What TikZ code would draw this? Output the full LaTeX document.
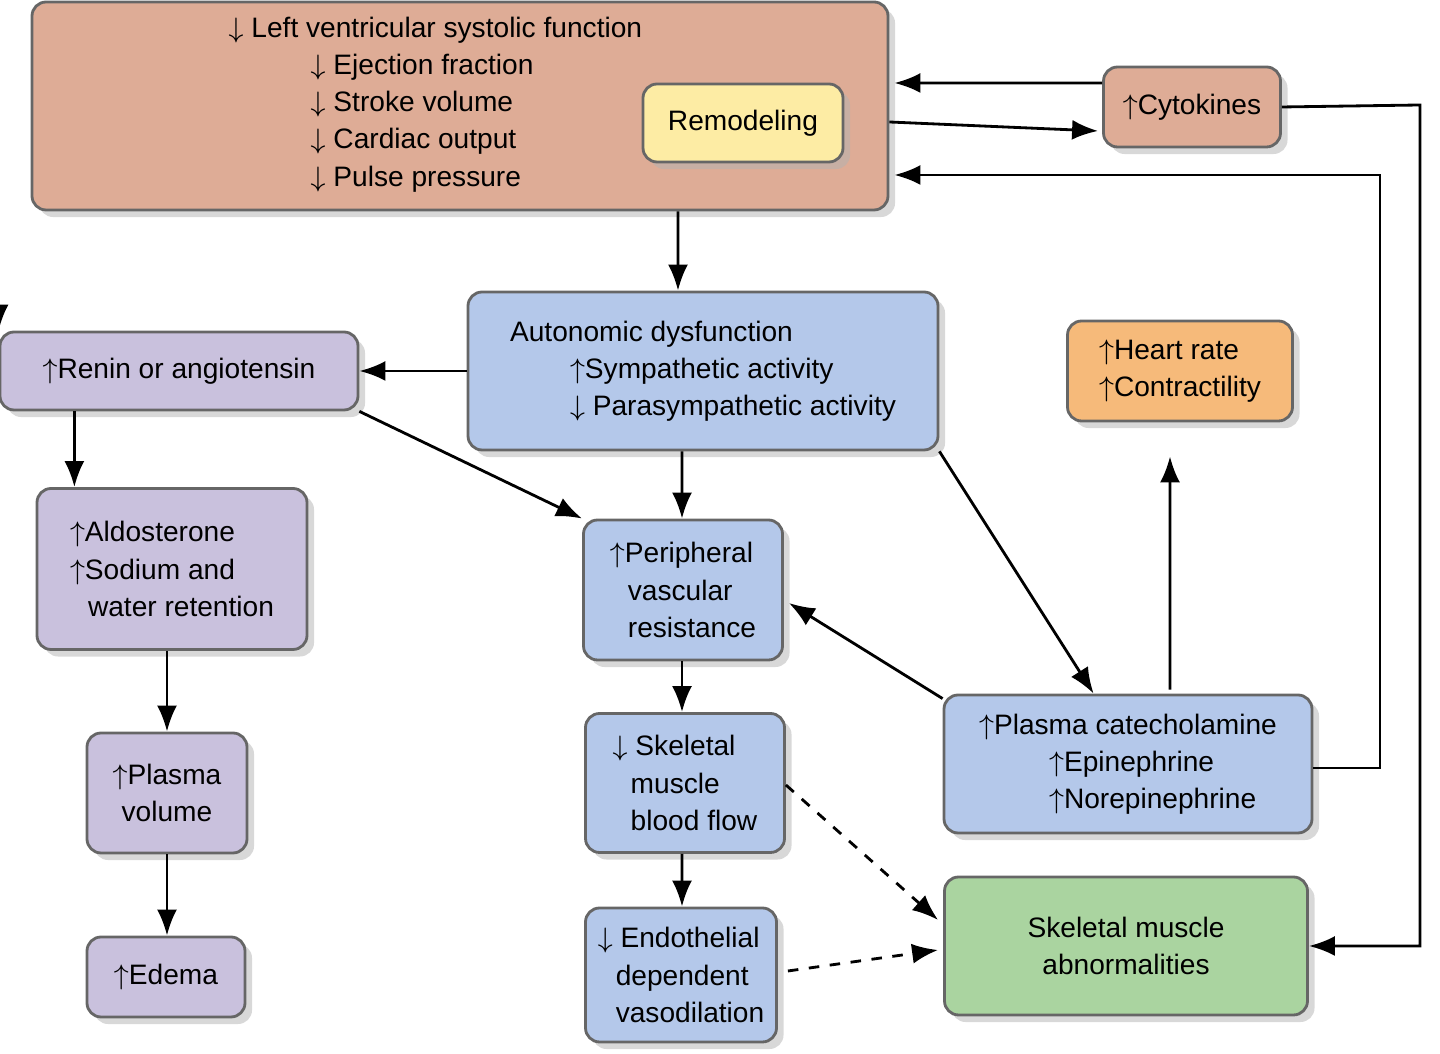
\documentclass[tikz,border=0pt]{standalone}
\usepackage{fontspec}
\setmainfont{Liberation Sans}
\usetikzlibrary{positioning,calc,arrows.meta,shadows}
\definecolor{HFBrown}{RGB}{222,172,150}
\definecolor{HFYellow}{RGB}{253,236,164}
\definecolor{HFPurple}{RGB}{201,193,221}
\definecolor{HFBlue}{RGB}{180,200,234}
\definecolor{HFOrange}{RGB}{246,186,122}
\definecolor{HFGreen}{RGB}{170,212,160}
\tikzset{
    box/.style={rectangle, rounded corners=4pt, draw=black!60, thick, inner sep=2pt,
        drop shadow={shadow xshift=2pt, shadow yshift=-2pt, fill=black!30},
        font=\fontsize{8}{10.6}\selectfont, align=left},
    link/.style={draw=black, thick, -{Latex[length=2.6mm, width=2mm]}},
    dlink/.style={link, dashed}
}
\newcommand{\up}{$\uparrow$}
\newcommand{\dn}{$\downarrow$}
\begin{document}
\begin{tikzpicture}[x=1cm, y=1cm]
    \useasboundingbox (0,0) rectangle (14.40,10.54);
    % boxes
    \node[box, fill=HFBrown, minimum width=8.56cm, minimum height=2.08cm] (lv) at (4.60,9.48) {};
    \node[anchor=north west, align=left, inner sep=0pt, font=\fontsize{8}{10.6}\selectfont] (lvtxt) at (2.28,10.38)
        {\dn\ Left ventricular systolic function\\
         \hspace{0.82cm}\dn\ Ejection fraction\\
         \hspace{0.82cm}\dn\ Stroke volume\\
         \hspace{0.82cm}\dn\ Cardiac output\\
         \hspace{0.82cm}\dn\ Pulse pressure};
    \node[box, fill=HFYellow, minimum width=2.0cm, minimum height=0.78cm, align=center] (remod) at (7.43,9.31) {Remodeling};
    \node[box, fill=HFBrown, minimum width=1.77cm, minimum height=0.80cm] (cyto) at (11.92,9.47) {\up Cytokines};
    \node[box, fill=HFPurple, minimum width=3.58cm, minimum height=0.78cm] (renin) at (1.79,6.83) {\up Renin or angiotensin};
    \node[box, fill=HFBlue, minimum width=4.70cm, minimum height=1.58cm] (auto) at (7.03,6.83)
        {Autonomic dysfunction\\
         \hspace{0.6cm}\up Sympathetic activity\\
         \hspace{0.6cm}\dn\ Parasympathetic activity};
    \node[box, fill=HFOrange, minimum width=2.25cm, minimum height=1.0cm] (hr) at (11.80,6.83)
        {\up Heart rate\\ \up Contractility};
    \node[box, fill=HFPurple, minimum width=2.70cm, minimum height=1.61cm] (aldo) at (1.72,4.85)
        {\up Aldosterone\\ \up Sodium and\\ \hspace{0.18cm}water retention};
    \node[box, fill=HFBlue, minimum width=1.99cm, minimum height=1.40cm] (pvr) at (6.83,4.64)
        {\up Peripheral\\ \hspace{0.18cm}vascular\\ \hspace{0.18cm}resistance};
    \node[box, fill=HFPurple, minimum width=1.60cm, minimum height=1.20cm, align=center] (pvol) at (1.67,2.61)
        {\up Plasma\\ volume};
    \node[box, fill=HFBlue, minimum width=1.99cm, minimum height=1.39cm] (skel) at (6.85,2.71)
        {\dn\ Skeletal\\ \hspace{0.18cm}muscle\\ \hspace{0.18cm}blood flow};
    \node[box, fill=HFBlue, minimum width=3.68cm, minimum height=1.38cm] (cat) at (11.28,2.90)
        {\up Plasma catecholamine\\
         \hspace{0.7cm}\up Epinephrine\\
         \hspace{0.7cm}\up Norepinephrine};
    \node[box, fill=HFPurple, minimum width=1.58cm, minimum height=0.80cm] (edema) at (1.66,0.77) {\up Edema};
    \node[box, fill=HFBlue, minimum width=1.91cm, minimum height=1.34cm] (endo) at (6.81,0.79)
        {\dn\ Endothelial\\ \hspace{0.18cm}dependent\\ \hspace{0.18cm}vasodilation};
    \node[box, fill=HFGreen, minimum width=3.63cm, minimum height=1.38cm, align=center] (skm) at (11.26,1.08)
        {Skeletal muscle\\ abnormalities};

    % connectors
    \draw[link] (lv.south -| renin.170) -- (renin.north -| renin.170);
    \draw[link] ($(lv.south)+(2.18,0)$) -- ($(auto.north)+(-0.25,0)$);
    \draw[link] (auto.west |- renin) -- (renin.east);
    \draw[link] (renin.south east) -- (pvr.north west);
    \draw[link] ($(auto.south)+(-0.21,0)$) -- ($(pvr.north)+(-0.01,0)$);
    \draw[link] (auto.south east) -- ($(cat.north west)+(1.51,0)$);
    \draw[link] (renin.south -| aldo.140) -- (aldo.north -| aldo.140);
    \draw[link] (aldo.south -| pvol) -- (pvol.north);
    \draw[link] (pvol.south) -- (pvol.south |- edema.north);
    \draw[link] ($(pvr.south)+(-0.01,0)$) -- ($(skel.north)+(-0.03,0)$);
    \draw[link] ($(skel.south)+(-0.03,0)$) -- ($(endo.north)+(0.01,0)$);
    \draw[link] ($(cat.north west)+(0,-0.05)$) -- ($(pvr.east)+(0.05,-0.13)$);
    \draw[link] ($(cat.north)+(0.42,0.04)$) -- ($(hr.south)+(-0.10,-0.34)$);
    \draw[dlink] ($(skel.east)+(0,-0.02)$) -- ($(skm.west)+(-0.05,0.26)$);
    \draw[dlink] ($(endo.east)+(0.10,0.04)$) -- ($(skm.west)+(-0.05,-0.04)$);
    \coordinate (cytoR) at (14.20,9.49);
    \coordinate (catR) at (13.80,2.86);
    \draw[link] ($(lv.east)+(0,-0.16)$) -- ($(cyto.west)+(-0.04,-0.24)$);
    \draw[link] ($(cyto.west)+(0,0.24)$) -- ($(lv.east)+(0.05,0.23)$);
    \draw[link] (cyto.east) -- (cytoR) -- (cytoR |- skm) -- (skm.east);
    \draw[link] (cat.east |- catR) -- (catR) -- (catR |- 0,8.79) -- ($(lv.east)+(0.05,-0.69)$);
\end{tikzpicture}
\end{document}
